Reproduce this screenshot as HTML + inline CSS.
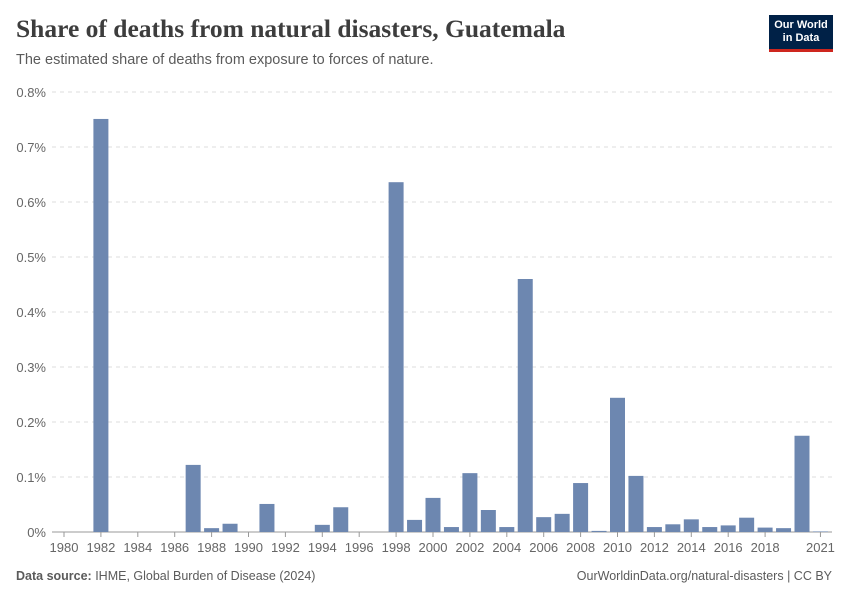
<!DOCTYPE html>
<html><head><meta charset="utf-8">
<style>
body{margin:0;width:850px;height:600px;background:#fff;font-family:"Liberation Sans",sans-serif;position:relative;overflow:hidden}
.t{position:absolute;left:16px;top:14px;font-family:"Liberation Serif",serif;font-size:25.5px;font-weight:bold;color:#3d3d3d}
.s{position:absolute;left:16px;top:52px;font-size:14.5px;color:#5b5b5b}
.logo{position:absolute;left:769px;top:15px;width:64px;height:37px;background:#002147;border-bottom:3px solid #ce261e;color:#fff;font-size:11px;font-weight:bold;line-height:13px;text-align:center;padding-top:4px;box-sizing:border-box}
.f{position:absolute;top:569px;font-size:12.5px;color:#5b5b5b}
</style></head><body>
<div class="t">Share of deaths from natural disasters, Guatemala</div>
<div class="s">The estimated share of deaths from exposure to forces of nature.</div>
<div class="logo">Our World<br>in Data</div>
<svg id="c" width="850" height="600" style="position:absolute;left:0;top:0"></svg>
<div class="f" style="left:16px"><b>Data source:</b> IHME, Global Burden of Disease (2024)</div>
<div class="f" style="right:18px">OurWorldinData.org/natural-disasters | CC BY</div>
<script>
const years=[1982,1987,1988,1989,1991,1994,1995,1998,1999,2000,2001,2002,2003,2004,2005,2006,2007,2008,2009,2010,2011,2012,2013,2014,2015,2016,2017,2018,2019,2020,2021];
const values=[0.751,0.122,0.007,0.015,0.051,0.013,0.045,0.636,0.022,0.062,0.009,0.107,0.04,0.009,0.46,0.027,0.033,0.089,0.002,0.244,0.102,0.009,0.014,0.023,0.009,0.012,0.026,0.008,0.007,0.175,0.001];
const yTicks=[0,0.1,0.2,0.3,0.4,0.5,0.6,0.7,0.8];
const xTicks=[1980,1982,1984,1986,1988,1990,1992,1994,1996,1998,2000,2002,2004,2006,2008,2010,2012,2014,2016,2018,2021];
const NS="http://www.w3.org/2000/svg",svg=document.getElementById('c');
const y=v=>532-v*550, x=yr=>64+(yr-1980)*18.45;
function mk(t,a){const e=document.createElementNS(NS,t);for(const k in a)e.setAttribute(k,a[k]);svg.appendChild(e);return e;}
yTicks.forEach(v=>{
 const l=mk('line',{x1:52,x2:832,y1:y(v),y2:y(v),stroke:v?'#ddd':'#999','stroke-dasharray':v?'4,4':''});
 
 
 const t=mk('text',{x:46,y:y(v)+5,'text-anchor':'end','font-size':13,fill:'#666'});t.textContent=v+'%';
 
 
});
xTicks.forEach(v=>{
 const l=mk('line',{x1:x(v),x2:x(v),y1:532,y2:537,stroke:'#999'});
 
 
 const t=mk('text',{x:x(v),y:552,'text-anchor':'middle','font-size':13,fill:'#666'});t.textContent=v;
 
 
});
years.forEach((yr,i)=>{
 const r=mk('rect',{x:x(yr)-7.5,y:y(values[i]),width:15,height:532-y(values[i]),fill:'#6d87b0'});
 
 
});
</script>
</body></html>
